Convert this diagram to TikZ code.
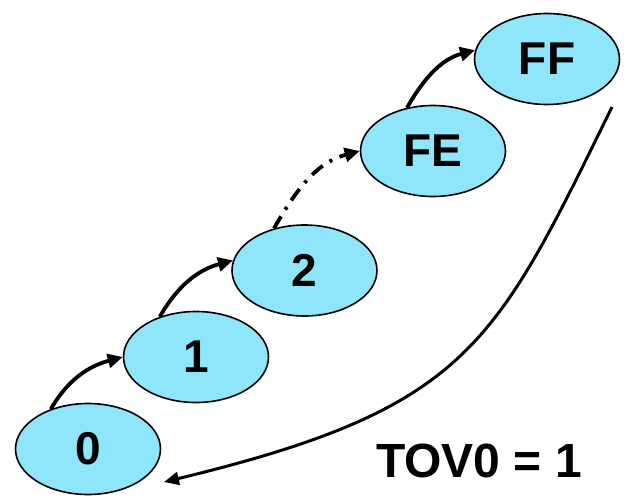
\documentclass[tikz,border=0pt]{standalone}
\usepackage{fontspec}
\setmainfont{Liberation Sans}
\usetikzlibrary{shapes.geometric,arrows.meta}
\definecolor{cellfill}{RGB}{143,230,250}
\tikzset{
  cnt/.style={ellipse, draw=black, line width=1.6pt, fill=cellfill,
    minimum width=145pt, minimum height=91pt, inner sep=0pt,
    font=\fontsize{46}{46}\selectfont\bfseries},
  stepar/.style={line width=3.8pt, -{Triangle[length=15pt,width=14pt]}},
  dashar/.style={stepar, dash pattern=on 14pt off 8pt on 3pt off 8pt},
  retar/.style={line width=3pt, -{Triangle[length=15pt,width=13pt]}},
}
\begin{document}
\begin{tikzpicture}[x=1pt,y=-1pt]
\useasboundingbox (0,0) rectangle (625,498);
\node[cnt] (n0) at (88,449) {0};
\node[cnt] (n1) at (196,357) {1};
\node[cnt] (n2) at (304.5,270.5) {2};
\node[cnt] (fe) at (433,151) {FE};
\node[cnt] (ff) at (547,59) {FF};
\node[inner sep=0pt, font=\fontsize{48}{48}\selectfont\bfseries] (tov) at (479,460.5) {TOV0 = 1};
\coordinate (ret) at (612,107);
\coordinate (retend) at (164,482);

\draw[stepar] (n0.133) to[out=60,in=195] (n1.west);
\draw[stepar] (n1.132) to[out=60,in=195] (n2.172);
\draw[dashar] (n2.126) to[out=60,in=195] (fe.west);
\draw[stepar] (fe.121) to[out=60,in=195] (ff.173);
\draw[retar] (ret) .. controls (495,345) and (470,408) .. (retend);
\end{tikzpicture}
\end{document}
